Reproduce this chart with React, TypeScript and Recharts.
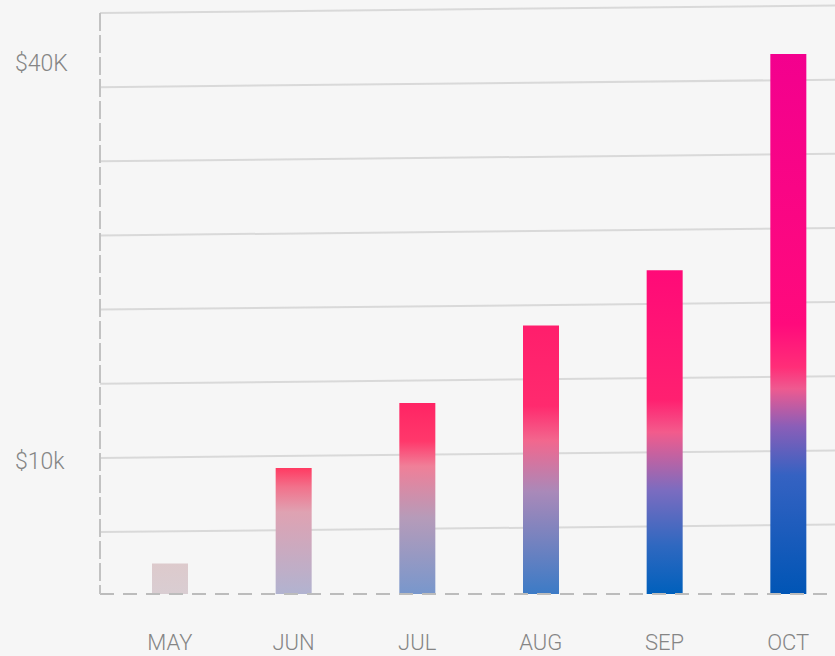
import { BarChart, Bar, XAxis, YAxis, CartesianGrid, Cell } from 'recharts';

const MONTHS = ['MAY', 'JUN', 'JUL', 'AUG', 'SEP', 'OCT'];
const REVENUE = [2300, 9500, 14400, 20250, 24400, 40700];
const Y_TICKS = [10000, 40000];
const Y_TICK_LABELS = ['$10k', '$40K'];
const Y_MAX = 43800;
const GRID_STEP = 5590; // grid spacing doesn't follow the labels in the original

const data = MONTHS.map((month, i) => ({ month, revenue: REVENUE[i] }));
const gridValues = Array.from({ length: 8 }, (_, k) => Y_MAX - k * GRID_STEP);

// per-bar vertical gradients, top -> bottom
const BAR_GRADIENTS: [number, string][][] = [
  [[0, '#ddcacc'], [1, '#d9cdd2']],
  [[0, '#ff3a62'], [0.15, '#f2718b'], [0.35, '#dfa2b2'], [1, '#b1b3d0']],
  [[0, '#ff2464'], [0.2, '#ff386b'], [0.33, '#f07f98'], [0.6, '#b69bb9'], [1, '#7897cc']],
  [[0, '#ff1e6c'], [0.3, '#ff2a6e'], [0.43, '#f2678e'], [0.62, '#a989b9'], [1, '#3c7bc6']],
  [[0, '#ff0a78'], [0.4, '#ff2070'], [0.5, '#f35b8c'], [0.68, '#7b6cc0'], [0.85, '#2f68c0'], [1, '#0060bc']],
  [[0, '#f3008e'], [0.5, '#ff0a7c'], [0.58, '#ff2e78'], [0.62, '#ee5a90'], [0.69, '#8a5eb8'], [0.78, '#3562c2'], [1, '#0055b5']],
];

const TEXT = '#858585';
const FONT = 'Roboto, "Liberation Sans", sans-serif';
const TILT = 7.5 / 735;

const TiltedLine = (props: any) => {
  const { x1, y1, x2, y2 } = props;
  return (
    <line
      x1={x1}
      y1={y1}
      x2={x2}
      y2={y2 - (x2 - x1) * TILT}
      stroke="#d9d9d9"
      strokeWidth={2}
    />
  );
};

const YTick = ({ y, payload }: any) => (
  <text x={15} y={y} dominantBaseline="central" textAnchor="start" fill={TEXT}
    fontSize={23} fontWeight={300} fontFamily={FONT}>
    {Y_TICK_LABELS[Y_TICKS.indexOf(payload.value)]}
  </text>
);

const XTick = ({ x, y, payload }: any) => (
  <text x={x} y={y} dominantBaseline="central" textAnchor="middle" fill={TEXT}
    fontSize={22} fontWeight={300} fontFamily={FONT}>
    {payload.value}
  </text>
);

export default function App() {
  return (
    <div style={{ position: 'absolute', left: 0, top: 0, width: 835, height: 656, overflow: 'hidden', background: '#f6f6f6' }}>
      <BarChart width={850} height={656} data={data} margin={{ top: 13, right: 0, left: 0, bottom: 0 }}>
        <defs>
          {BAR_GRADIENTS.map((stops, i) => (
            <linearGradient key={i} id={`bar-grad-${i}`} x1="0" y1="0" x2="0" y2="1">
              {stops.map(([offset, color]) => (
                <stop key={offset} offset={offset} stopColor={color} />
              ))}
            </linearGradient>
          ))}
        </defs>
        <CartesianGrid vertical={false} horizontalValues={gridValues} horizontal={TiltedLine} />
        <XAxis
          dataKey="month"
          padding={{ left: 8, right: 0 }}
          axisLine={{ stroke: '#bcbcbc', strokeWidth: 2, strokeDasharray: '14 9' }}
          tickLine={false}
          tickMargin={42}
          height={62}
          tick={<XTick />}
        />
        <YAxis
          domain={[0, Y_MAX]}
          ticks={Y_TICKS}
          width={100}
          axisLine={{ stroke: '#c2c2c2', strokeWidth: 2, strokeDasharray: '18 4' }}
          tickLine={false}
          tick={<YTick />}
          allowDataOverflow
        />
        <Bar dataKey="revenue" barSize={36} isAnimationActive={false}>
          {data.map((entry, i) => (
            <Cell key={entry.month} fill={`url(#bar-grad-${i})`} />
          ))}
        </Bar>
      </BarChart>
    </div>
  );
}
